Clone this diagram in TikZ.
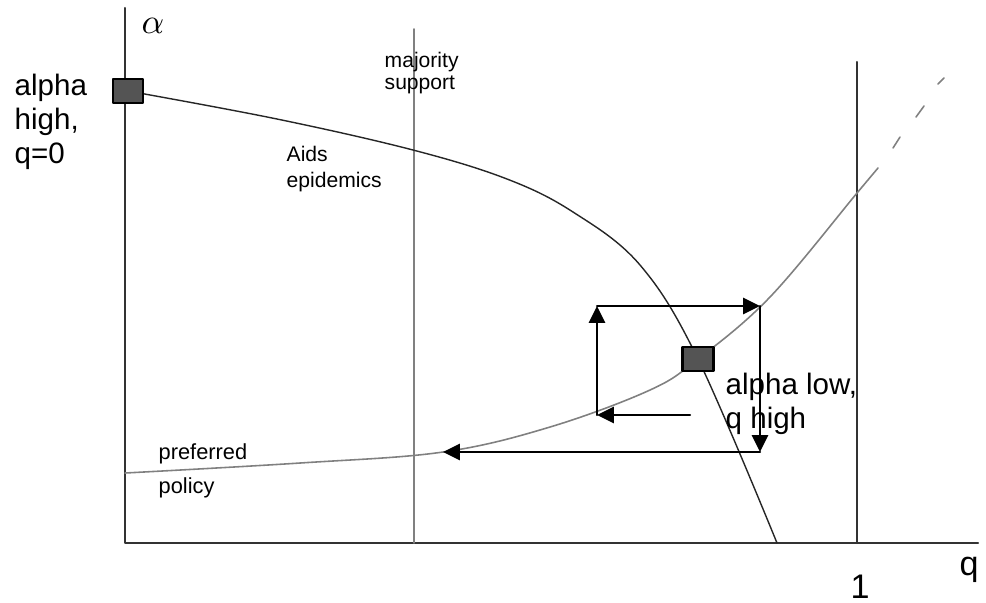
\documentclass[tikz,border=0pt]{standalone}
\usepackage{fontspec}
\setmainfont{Liberation Sans}
\usetikzlibrary{arrows.meta}
\begin{document}
\begin{tikzpicture}[x=0.01cm, y=-0.01cm, line cap=round, line join=round,
		txt/.style={inner sep=0pt, anchor=north west, align=left},
		pt/.style={draw=black, fill=black!67, line width=0.6pt, minimum width=0.3cm, minimum height=0.24cm, inner sep=0pt},
		arr/.style={line width=0.6pt, -{Triangle[length=4.8pt, width=4.6pt]}}]
	\useasboundingbox (0,0) rectangle (986,602);
	% axes and vertical lines
	\coordinate (O) at (125,543);
	\draw[line width=0.6pt, black!80] (125,8) -- (O) -- (978,543);
	\draw[line width=0.45pt, black!50] (414,29) -- (414,543);
	\draw[line width=0.6pt, black!80] (857,62) -- (857,543);
	\node[inner sep=0pt] (alph) at (153,26) {\fontsize{10}{12}\selectfont$\alpha$};
	\node[inner sep=0pt, anchor=base] (one) at (860,598) {\fontsize{9.7}{11}\selectfont 1};
	\node[inner sep=0pt, anchor=base west] (qq) at (959,575) {\fontsize{9.7}{11}\selectfont q};
	% curves
	\draw[line width=0.4pt, black!85] plot[smooth, tension=0.6] coordinates {(128,91) (277,119) (413,150) (507,179) (573,212) (640,265) (698,359) (777,543)};
	\draw[line width=0.45pt, black!50] plot[smooth, tension=0.6] coordinates {(125,473) (300,463) (443,452) (550,427) (650,390) (698,359) (770,297) (857,193) (878,168)};
	\draw[line width=0.45pt, black!50] (893,148) -- (900,137) (916,117) -- (924,106) (938,84) -- (944,78);
	% the two points
	\node[pt] (hi) at (128,91) {};
	\node[pt, minimum width=0.31cm] (lo) at (698,359) {};
	\node[txt, font=\fontsize{8.4}{9.7}\selectfont] (hitxt) at (14,73) {alpha\\high,\\q=0};
	\node[txt, font=\fontsize{8.4}{9.7}\selectfont] (lotxt) at (725,372) {alpha low,\\q high};
	\node[txt, font=\fontsize{6}{6.4}\selectfont] (maj) at (384,51) {majority\\support};
	\node[txt, font=\fontsize{6}{7.4}\selectfont] (aids) at (286,145) {Aids\\epidemics};
	\node[txt, font=\fontsize{6.2}{9.7}\selectfont] (pref) at (158,443) {preferred\\policy};
	% adjustment path
	\coordinate (s0) at (690,415);
	\coordinate (s1) at (597,415);
	\coordinate (s2) at (597,306);
	\coordinate (s3) at (760,306);
	\coordinate (s4) at (760,452);
	\coordinate (s5) at (443,452);
	\draw[arr] (s0) -- (s1);
	\draw[arr] (s1) -- (s2);
	\draw[arr] (s2) -- (s3);
	\draw[arr] (s3) -- (s4);
	\draw[arr] (s4) -- (s5);
\end{tikzpicture}
\end{document}
